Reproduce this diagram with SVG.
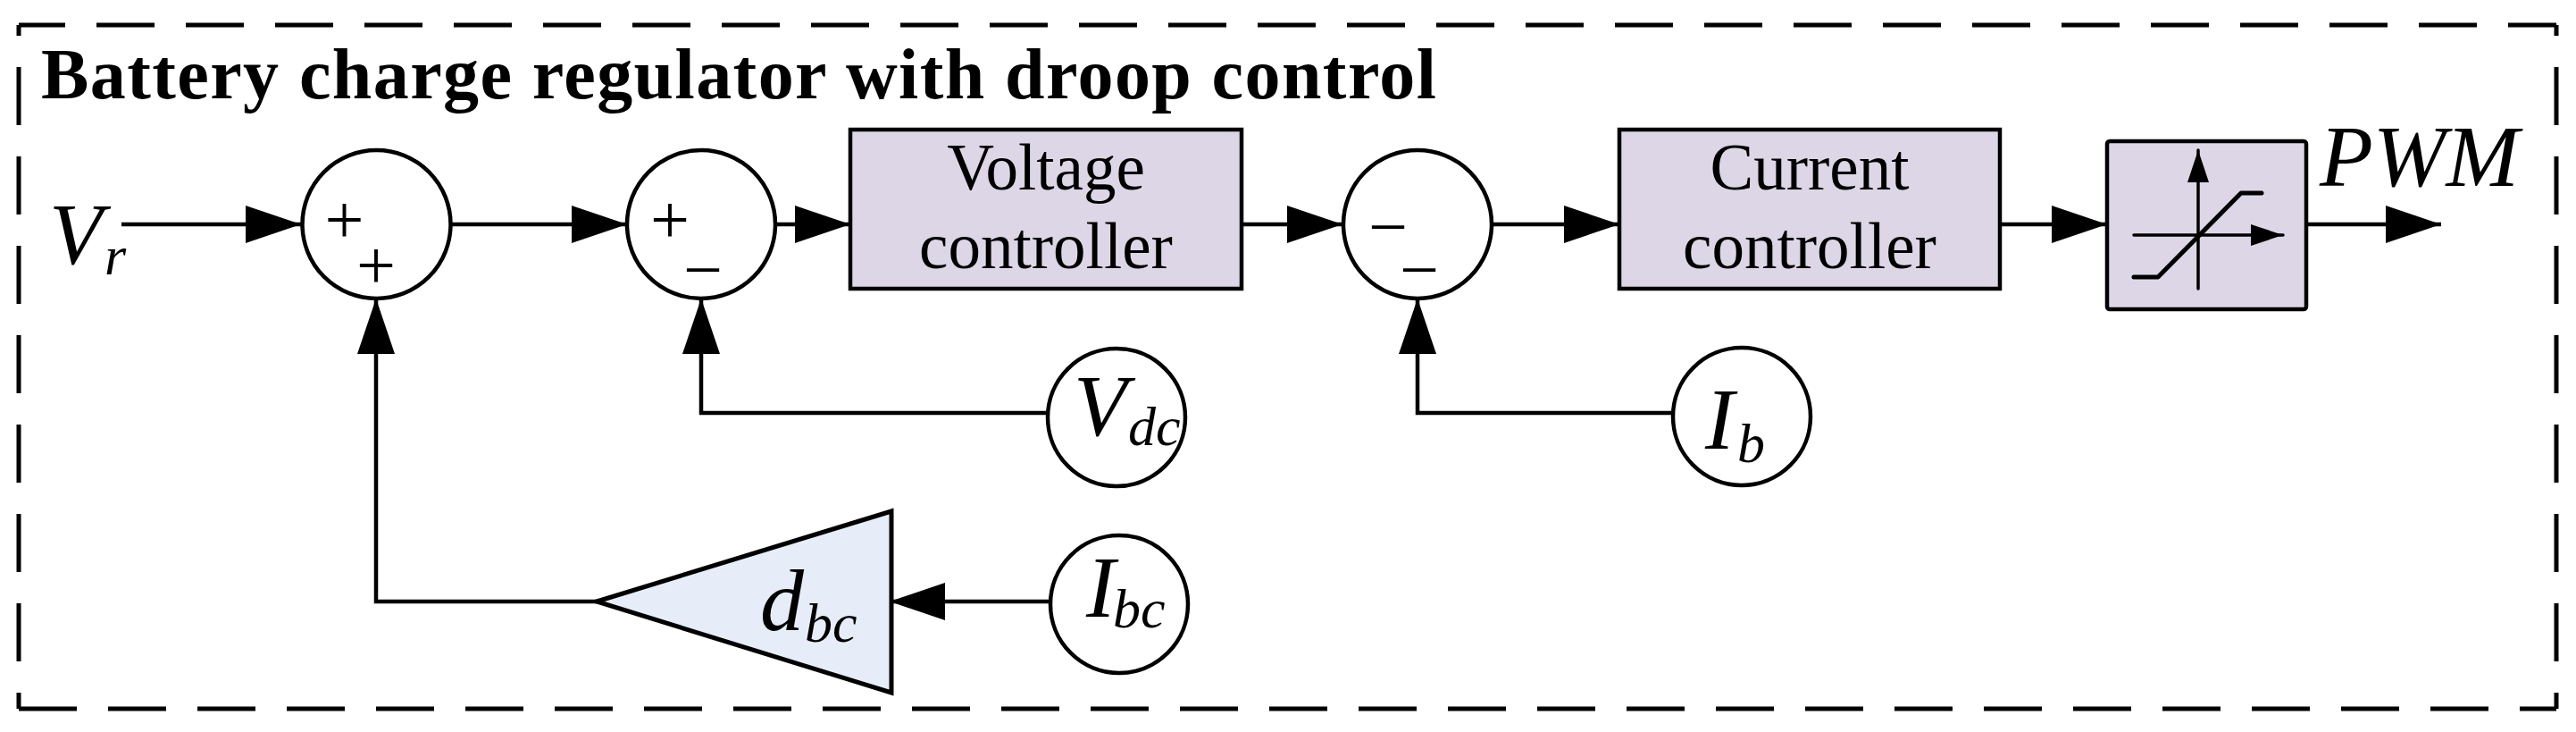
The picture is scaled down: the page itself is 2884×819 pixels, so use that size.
<svg xmlns="http://www.w3.org/2000/svg" width="2884" height="819" viewBox="0 0 2884 819">
<style>
.ln{fill:none;stroke:#000;stroke-width:4.5}
.blk{fill:#DCD6E6;stroke:#000;stroke-width:4.5}
.sum{fill:#fff;stroke:#000;stroke-width:4.5}
.brd{fill:none;stroke:#000;stroke-width:5;stroke-dasharray:65 35}
.t{font-family:"Liberation Serif","Times New Roman",serif;fill:#000}
.it{font-family:"Liberation Serif","Times New Roman",serif;font-style:italic;fill:#000}
.big{font-size:98px}
.sub{font-size:62px}
.lbl{font-size:73px;text-anchor:middle}
.sg{font-size:78px;text-anchor:middle}
</style>
<defs>
<marker id="ah" markerUnits="userSpaceOnUse" viewBox="0 0 62 42" refX="62" refY="21" markerWidth="62" markerHeight="42" orient="auto">
<path d="M0,0 L62,21 L0,42 Z" fill="#000"/>
</marker>
<marker id="sa" markerUnits="userSpaceOnUse" viewBox="0 0 36 24" refX="36" refY="12" markerWidth="36" markerHeight="24" orient="auto">
<path d="M0,0 L36,12 L0,24 Z" fill="#000"/>
</marker>
</defs>

<g id="frame">
<line class="brd" x1="21" y1="28" x2="2862" y2="28" stroke-dashoffset="13"/>
<line class="brd" x1="21" y1="28" x2="21" y2="793" stroke-dashoffset="53"/>
<line class="brd" x1="21" y1="793" x2="2862" y2="793"/>
<line class="brd" x1="2862" y1="28" x2="2862" y2="793" stroke-dashoffset="53"/>
<text class="t" x="46" y="110" font-size="80" font-weight="bold" textLength="1562" lengthAdjust="spacing">Battery charge regulator with droop control</text>
</g>

<g id="connectors">
<line class="ln" x1="136" y1="251" x2="337" y2="251" marker-end="url(#ah)"/>
<line class="ln" x1="505" y1="251" x2="702" y2="251" marker-end="url(#ah)"/>
<line class="ln" x1="868" y1="251" x2="952" y2="251" marker-end="url(#ah)"/>
<line class="ln" x1="1390" y1="251" x2="1503" y2="251" marker-end="url(#ah)"/>
<line class="ln" x1="1670" y1="251" x2="1813" y2="251" marker-end="url(#ah)"/>
<line class="ln" x1="2239" y1="251" x2="2359" y2="251" marker-end="url(#ah)"/>
<line class="ln" x1="2582" y1="251" x2="2733" y2="251" marker-end="url(#ah)"/>
<polyline class="ln" points="1175,462 785,462 785,334" marker-end="url(#ah)"/>
<polyline class="ln" points="1873,462 1587,462 1587,334" marker-end="url(#ah)"/>
<polyline class="ln" points="668,673 421,673 421,334" marker-end="url(#ah)"/>
<line class="ln" x1="1176" y1="673" x2="996" y2="673" marker-end="url(#ah)"/>
</g>

<g id="Vr">
<text class="it big" x="55" y="295">V<tspan class="sub" x="117" y="307">r</tspan></text>
</g>

<g id="sum1">
<circle class="sum" cx="421.5" cy="251" r="83"/>
<text class="t sg" x="385.5" y="272">+</text>
<text class="t sg" x="421" y="323">+</text>
</g>

<g id="sum2">
<circle class="sum" cx="785" cy="251" r="83"/>
<text class="t sg" x="750" y="272">+</text>
<text class="t sg" x="787" y="328">−</text>
</g>

<g id="voltage-controller">
<rect class="blk" x="952" y="145" width="438" height="178"/>
<text class="t lbl" x="1171" y="212">Voltage</text>
<text class="t lbl" x="1171" y="300">controller</text>
</g>

<g id="sum3">
<circle class="sum" cx="1587" cy="251" r="83"/>
<text class="t sg" x="1554" y="280">−</text>
<text class="t sg" x="1589" y="328">−</text>
</g>

<g id="current-controller">
<rect class="blk" x="1813" y="145" width="426" height="178"/>
<text class="t lbl" x="2026" y="212">Current</text>
<text class="t lbl" x="2026" y="300">controller</text>
</g>

<g id="saturation">
<rect class="blk" x="2359" y="158" width="223" height="188" rx="3"/>
<line x1="2461" y1="323" x2="2461" y2="168" stroke="#000" stroke-width="3.5" stroke-linecap="round" marker-end="url(#sa)"/>
<line x1="2389" y1="263" x2="2556" y2="263" stroke="#000" stroke-width="3.5" stroke-linecap="round" marker-end="url(#sa)"/>
<polyline points="2389,310 2416,310 2509,216 2532,216" fill="none" stroke="#000" stroke-width="5" stroke-linecap="round" stroke-linejoin="round"/>
</g>

<g id="PWM">
<text class="it big" x="2597" y="208">PWM</text>
</g>

<g id="Vdc">
<circle class="sum" cx="1250" cy="467" r="77"/>
<text class="it big" x="1202" y="487">V<tspan class="sub" x="1263" y="498">dc</tspan></text>
</g>

<g id="Ib">
<circle class="sum" cx="1950" cy="466" r="77"/>
<text class="it big" x="1909" y="502">I<tspan class="sub" x="1945" y="517">b</tspan></text>
</g>

<g id="gain">
<polygon points="668,673 998,572 998,775" fill="#E6EDF8" stroke="#000" stroke-width="5" stroke-linejoin="miter"/>
<text class="it big" x="851" y="705">d<tspan class="sub" x="901" y="718">bc</tspan></text>
</g>

<g id="Ibc">
<circle class="sum" cx="1253" cy="676" r="77"/>
<text class="it big" x="1216" y="690">I<tspan class="sub" x="1246" y="702">bc</tspan></text>
</g>
</svg>
